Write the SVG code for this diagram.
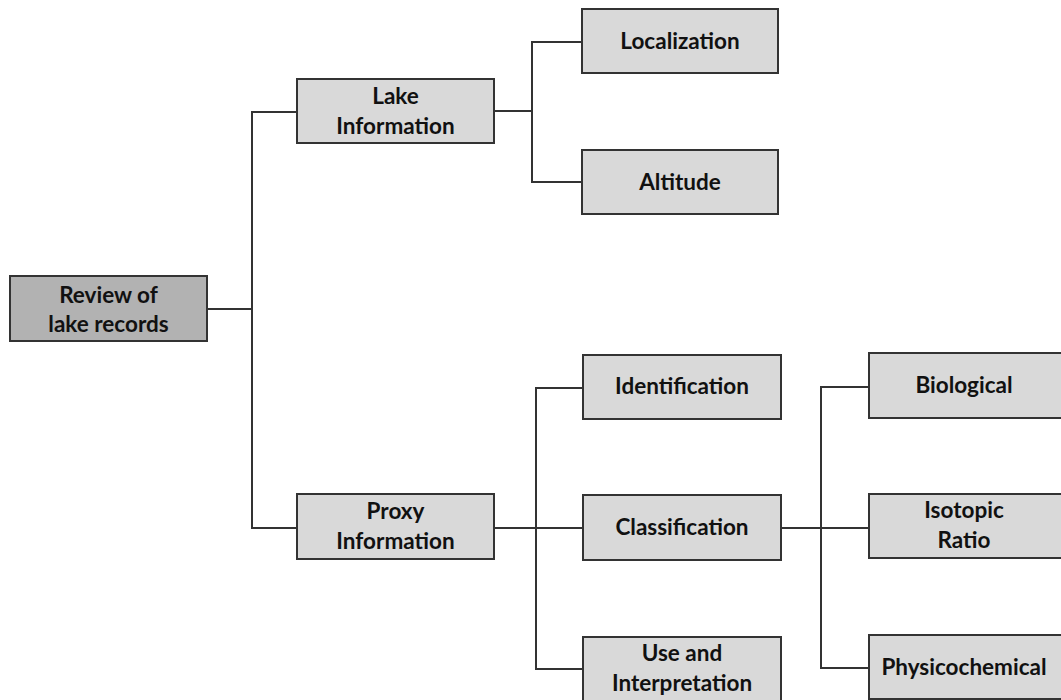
<svg xmlns="http://www.w3.org/2000/svg" width="1061" height="700" viewBox="0 0 1061 700">
<style>
.box{fill:#d9d9d9;stroke:#333;stroke-width:2}
.root{fill:#b2b2b2;stroke:#333;stroke-width:2}
.lbl{font-family:Lato,"Open Sans","Liberation Sans",sans-serif;font-weight:bold;font-size:22.5px;fill:#111;text-anchor:middle}
.conn{fill:none;stroke:#333;stroke-width:2}
</style>
<rect width="1061" height="700" fill="#fff"/>
<g id="connectors">
<polyline class="conn" points="207,309 252,309"/>
<polyline class="conn" points="297,112 252,112 252,528 297,528"/>
<polyline class="conn" points="494,111 532,111"/>
<polyline class="conn" points="582,42 532,42 532,182 582,182"/>
<polyline class="conn" points="494,528 583,528"/>
<polyline class="conn" points="583,388 536,388 536,669 583,669"/>
<polyline class="conn" points="781,528 869,528"/>
<polyline class="conn" points="869,387 821,387 821,668 869,668"/>
</g>
<g id="root">
<rect class="root" x="10" y="276" width="197" height="65"/>
<text class="lbl" x="108.5" y="303">Review of</text>
<text class="lbl" x="108.5" y="332">lake records</text>
</g>
<g id="lake-info">
<rect class="box" x="297" y="79" width="197" height="64"/>
<text class="lbl" x="395.5" y="104">Lake</text>
<text class="lbl" x="395.5" y="134">Information</text>
</g>
<g id="proxy-info">
<rect class="box" x="297" y="494" width="197" height="65"/>
<text class="lbl" x="395.5" y="519">Proxy</text>
<text class="lbl" x="395.5" y="549">Information</text>
</g>
<g id="localization">
<rect class="box" x="582" y="9" width="196" height="64"/>
<text class="lbl" x="680" y="49">Localization</text>
</g>
<g id="altitude">
<rect class="box" x="582" y="150" width="196" height="64"/>
<text class="lbl" x="680" y="190">Altitude</text>
</g>
<g id="identification">
<rect class="box" x="583" y="355" width="198" height="64"/>
<text class="lbl" x="682" y="394">Identification</text>
</g>
<g id="classification">
<rect class="box" x="583" y="495" width="198" height="65"/>
<text class="lbl" x="682" y="535">Classification</text>
</g>
<g id="use-interpretation">
<rect class="box" x="583" y="637" width="198" height="64"/>
<text class="lbl" x="682" y="661">Use and</text>
<text class="lbl" x="682" y="691">Interpretation</text>
</g>
<g id="biological">
<rect class="box" x="869" y="353" width="194" height="65"/>
<text class="lbl" x="964" y="393">Biological</text>
</g>
<g id="isotopic-ratio">
<rect class="box" x="869" y="494" width="194" height="64"/>
<text class="lbl" x="964" y="518">Isotopic</text>
<text class="lbl" x="964" y="548">Ratio</text>
</g>
<g id="physicochemical">
<rect class="box" x="869" y="635" width="194" height="64"/>
<text class="lbl" x="964" y="675">Physicochemical</text>
</g>
</svg>
